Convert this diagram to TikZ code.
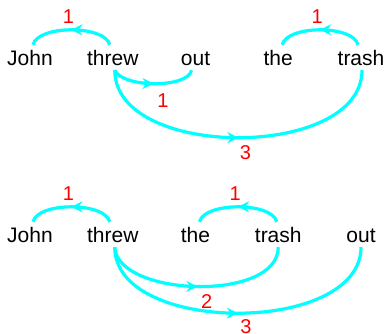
\documentclass[tikz,border=0pt]{standalone}
\usepackage{fontspec}
\setmainfont{Liberation Sans}
\usepackage{tikz}
\usetikzlibrary{arrows.meta, decorations.markings}

\definecolor{arccyan}{RGB}{0,255,255}
\definecolor{numred}{RGB}{255,0,0}

\tikzset{
    word/.style={inner sep=0pt, text height=20pt, text depth=5pt, font=\fontsize{21}{24}\selectfont},
    lbl/.style={inner sep=0pt, text=numred, font=\fontsize{20}{24}\selectfont},
    dep/.style={arccyan, line width=3.2pt, postaction={decorate},
        decoration={markings, mark=at position 0.5 with {\arrow{Stealth[length=11pt,width=11pt]}}}}
}

\begin{document}
\begin{tikzpicture}[x=1pt, y=-1pt]
    \useasboundingbox (0,0) rectangle (387,333);

    % Câu thứ nhất
    \foreach \w [count=\i] in {John,threw,out,the,trash}
        \node[word] (t\i) at ({30+82.75*(\i-1)},57.5) {\w};

    \draw[dep] ([xshift=-3pt]t2.north) .. controls +(-5,-20) and +(5,-20) .. ([xshift=3pt]t1.north)
        node[lbl, midway, above=5pt, xshift=-3pt] (ta) {1};
    \draw[dep] ([xshift=2pt]t2.south) .. controls +(8,18) and +(-3,18) .. ([xshift=-4pt]t3.south)
        node[lbl, midway, below=8pt, xshift=8pt] (tb) {1};
    \draw[dep] ([xshift=2pt]t2.south) .. controls +(0,90) and +(0,90) .. ([xshift=1pt]t5.south)
        node[lbl, midway, below=6pt, xshift=7pt] (tc) {3};
    \draw[dep] ([xshift=-3pt]t5.north) .. controls +(-5,-20) and +(5,-20) .. ([xshift=4pt]t4.north)
        node[lbl, midway, above=5pt, xshift=-3pt] (td) {1};

    % Câu thứ hai
    \foreach \w [count=\i] in {John,threw,the,trash,out}
        \node[word] (b\i) at ({30+82.75*(\i-1)},234.5) {\w};

    \draw[dep] ([xshift=-3pt]b2.north) .. controls +(-5,-20) and +(5,-20) .. ([xshift=3pt]b1.north)
        node[lbl, midway, above=5pt, xshift=-3pt] (ba) {1};
    \draw[dep] ([xshift=-1.5pt]b4.north) .. controls +(-5,-20) and +(5,-20) .. ([xshift=4pt]b3.north)
        node[lbl, midway, above=5pt, xshift=-3pt] (bb) {1};
    \draw[dep] ([xshift=2pt]b2.south) .. controls +(3,50) and +(0,55) .. (b4.south)
        node[lbl, midway, below=6pt, xshift=9pt] (bc) {2};
    \draw[dep] ([xshift=2pt]b2.south) .. controls +(0,88) and +(0,88) .. (b5.south)
        node[lbl, midway, below=5pt, xshift=8pt] (bd) {3};

\end{tikzpicture}
\end{document}
